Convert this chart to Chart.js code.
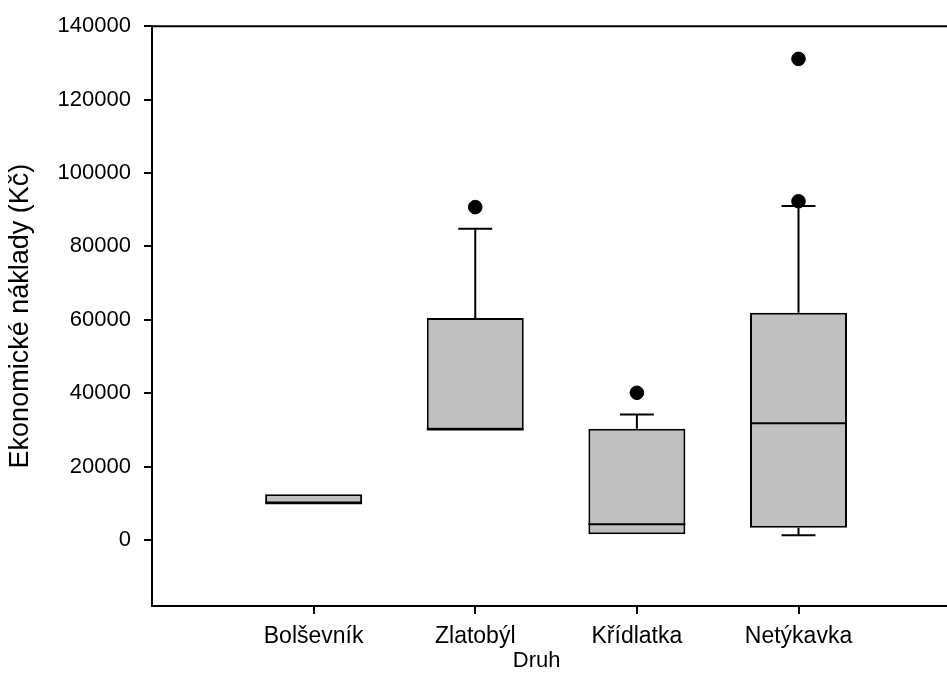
<!DOCTYPE html>
<html>
<head>
<meta charset="utf-8">
<script src="https://cdn.jsdelivr.net/npm/chart.js@4.4.0/dist/chart.umd.min.js"></script>
<style>
  body { margin: 0; background: #fff; overflow: hidden; }
  /* plot is cut at the right window edge, like the original */
  #wrap { width: 955px; height: 697px; }
</style>
</head>
<body>
<div id="wrap"><canvas id="myChart"></canvas></div>
<script>
const categories = ["Bolševník", "Zlatobýl", "Křídlatka", "Netýkavka"];
const q1 = [10000, 30100, 1550, 3300];
const median = [10000, 30100, 4300, 31800];
const q3 = [12450, 60500, 30300, 61900];
const whiskerLow = [null, null, null, 1300];
const whiskerHigh = [null, 84800, 34200, 91000];
const outliers = [[], [90700], [40100], [92300, 131100]];
const yTicks = [0, 20000, 40000, 60000, 80000, 100000, 120000, 140000];

const FONT = "'Liberation Sans', Arial, sans-serif";

// box data as floating bars
const boxData = categories.map((c, i) => ({ x: i + 1, y: [q1[i], q3[i]] }));
const outlierData = [];
outliers.forEach((list, i) => list.forEach(v => outlierData.push({ x: i + 1, y: v })));

// whiskers + median + top frame line + x title
const boxPlotLines = {
  id: "boxPlotLines",
  afterDatasetDraw(chart, args) {
    if (args.index !== 0) return;
    const { ctx, scales } = chart;
    const y = scales.y;
    const meta = chart.getDatasetMeta(0);
    ctx.save();
    ctx.strokeStyle = "#000";
    ctx.lineWidth = 2;
    meta.data.forEach((bar, i) => {
      const cx = bar.x;
      const half = bar.width / 2;
      const capHalf = bar.width * 0.175;
      // median
      const my = y.getPixelForValue(median[i]);
      ctx.beginPath();
      ctx.moveTo(cx - half, my);
      ctx.lineTo(cx + half, my);
      ctx.stroke();
      if (whiskerHigh[i] != null) {
        const t = y.getPixelForValue(q3[i]);
        const w = y.getPixelForValue(whiskerHigh[i]);
        ctx.beginPath();
        ctx.moveTo(cx, t);
        ctx.lineTo(cx, w);
        ctx.moveTo(cx - capHalf, w);
        ctx.lineTo(cx + capHalf, w);
        ctx.stroke();
      }
      if (whiskerLow[i] != null) {
        const b = y.getPixelForValue(q1[i]);
        const w = y.getPixelForValue(whiskerLow[i]);
        ctx.beginPath();
        ctx.moveTo(cx, b);
        ctx.lineTo(cx, w);
        ctx.moveTo(cx - capHalf, w);
        ctx.lineTo(cx + capHalf, w);
        ctx.stroke();
      }
    });
    ctx.restore();
  },
  afterDraw(chart) {
    const { ctx, chartArea, scales } = chart;
    ctx.save();
    ctx.strokeStyle = "#000";
    ctx.lineWidth = 2;
    ctx.beginPath();
    ctx.moveTo(chartArea.left, chartArea.top);
    ctx.lineTo(chart.width, chartArea.top);
    ctx.stroke();
    // axis title sits a bit left of the plot centre in the original
    ctx.fillStyle = "#000";
    ctx.font = "22px " + FONT;
    ctx.textAlign = "center";
    ctx.textBaseline = "middle";
    ctx.fillText("Druh", scales.x.getPixelForValue(2.38), 661);
    ctx.restore();
  },
};

const config = {
  type: "bar",
  data: {
    datasets: [
      {
        type: "bar",
        data: boxData,
        backgroundColor: "rgb(192, 192, 192)",
        borderColor: "#000",
        borderWidth: 2,
        borderSkipped: false,
        barPercentage: 0.6,
        categoryPercentage: 1,
      },
      {
        type: "scatter",
        data: outlierData,
        backgroundColor: "#000",
        borderColor: "#000",
        pointRadius: 6.8,
        pointHoverRadius: 6.8,
      },
    ],
  },
  options: {
    responsive: true,
    maintainAspectRatio: false,
    animation: false,
    layout: { padding: { top: 25, right: 0, left: 0, bottom: 0 } },
    plugins: {
      legend: { display: false },
      tooltip: { enabled: false },
    },
    scales: {
      x: {
        type: "linear",
        min: 0,
        max: 4.92,
        offset: false,
        afterBuildTicks: (scale) => {
          scale.ticks = categories.map((c, i) => ({ value: i + 1 }));
        },
        afterFit: (scale) => {
          scale.height = 91;
        },
        ticks: {
          callback: (v) => categories[v - 1],
          color: "#000",
          padding: 9,
          autoSkip: false,
          maxRotation: 0,
          font: { family: FONT, size: 23 },
        },
        grid: {
          offset: false,
          drawOnChartArea: false,
          color: "#000",
          lineWidth: 2,
          tickLength: 8,
        },
        border: { display: true, color: "#000", width: 2 },
        title: { display: false },
      },
      y: {
        min: -18000,
        max: 140000,
        afterBuildTicks: (scale) => {
          scale.ticks = yTicks.map((v) => ({ value: v }));
        },
        afterFit: (scale) => {
          scale.width = 152;
        },
        ticks: {
          color: "#000",
          padding: 13,
          font: { family: FONT, size: 22 },
          callback: (v) => String(v),
        },
        grid: {
          drawOnChartArea: false,
          color: "#000",
          lineWidth: 2,
          tickLength: 8,
        },
        border: { display: true, color: "#000", width: 2 },
        title: {
          display: true,
          text: "Ekonomické náklady (Kč)",
          color: "#000",
          font: { family: FONT, size: 27 },
          padding: { top: 4, bottom: 0 },
        },
      },
    },
  },
  plugins: [boxPlotLines],
};

const myChart = new Chart(document.getElementById("myChart"), config);
</script>
</body>
</html>
